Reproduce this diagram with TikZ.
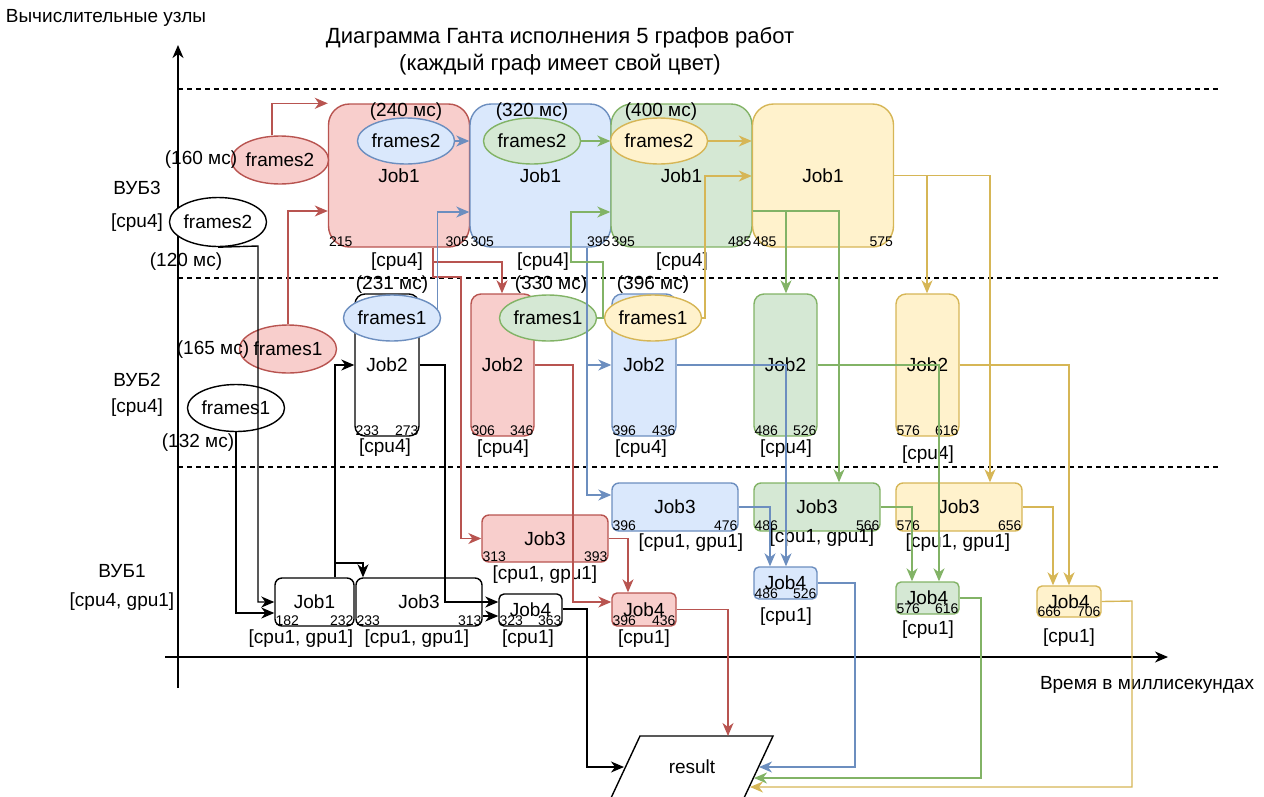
\documentclass[tikz,border=0pt]{standalone}
\usepackage{fontspec}
\setmainfont{Liberation Sans}
\usepackage{tikz}
\usetikzlibrary{
    arrows.meta,
    shapes.geometric
}
\definecolor{redLine}{RGB}{184, 84, 80}
\definecolor{redFill}{RGB}{248, 206, 204}
\definecolor{blueLine}{RGB}{108, 142, 191}
\definecolor{blueFill}{RGB}{218, 232, 252}
\definecolor{greenLine}{RGB}{130, 179, 102}
\definecolor{greenFill}{RGB}{213, 232, 212}
\definecolor{yellowLine}{RGB}{214, 182, 86}
\definecolor{yellowFill}{RGB}{255, 242, 204}
\newcommand{\labfont}{\fontsize{19}{22}\selectfont}
\newcommand{\titfont}{\fontsize{22}{26}\selectfont}
\newcommand{\numfont}{\fontsize{14}{16}\selectfont}
% start / end times in the lower corners of a job
\newcommand{\jobtimes}[3]{%
    \node[num, anchor=south west] (#1-s) at (#1.south west) {#2};
    \node[num, anchor=south east] (#1-e) at (#1.south east) {#3};}

\begin{document}
\begin{tikzpicture}[x=1pt, y=-1pt, >={Stealth[length=13pt, width=11pt, inset=4pt]},
    box/.style={rectangle, line width=1.4pt, inner sep=0pt, font=\labfont},
    jbig/.style={minimum width=141pt, minimum height=143pt, rounded corners=21pt},
    jtall/.style={minimum width=63pt, minimum height=142pt, rounded corners=10pt},
    jwide/.style={minimum width=126pt, minimum height=48pt, rounded corners=7pt},
    jsmall/.style={minimum width=63pt, minimum height=32pt, rounded corners=5pt},
    frm/.style={ellipse, line width=1.4pt, minimum width=79pt, minimum height=46pt, inner sep=0pt, font=\labfont},
    kc/.style={draw=black, fill=white},
    rc/.style={draw=redLine, fill=redFill},
    bc/.style={draw=blueLine, fill=blueFill},
    gc/.style={draw=greenLine, fill=greenFill},
    yc/.style={draw=yellowLine, fill=yellowFill},
    link/.style={->, line width=1.4pt},
    txt/.style={font=\labfont, inner sep=0pt},
    num/.style={font=\numfont, inner sep=1pt}]
    \useasboundingbox (0,0) rectangle (1264,796);

    % axes and node rows
    \coordinate (yBot) at (178,688);
    \coordinate (yTop) at (178,45);
    \coordinate (xLeft) at (165,657);
    \coordinate (xRight) at (1168,657);
    \draw[->, line width=1.5pt] (yBot) -- (yTop);
    \draw[->, line width=1.5pt] (xLeft) -- (xRight);
    \foreach \y in {89, 278, 467}
        \draw[line width=1.2pt, dash pattern=on 5pt off 4pt] (178,\y) -- (1220,\y);
    \node[txt] (yLab) at (106,18) {Вычислительные узлы};
    \node[txt] (xLab) at (1147,685) {Время в миллисекундах};
    \node[txt, font=\titfont] (title1) at (560,38) {Диаграмма Ганта исполнения 5 графов работ};
    \node[txt, font=\titfont] (title2) at (560,65) {(каждый граф имеет свой цвет)};
    \node[txt] (vub3) at (137,188) {ВУБ3};
    \node[txt] (vub3r) at (137,223) {[cpu4]};
    \node[txt] (vub2) at (137,380) {ВУБ2};
    \node[txt] (vub2r) at (137,408) {[cpu4]};
    \node[txt] (vub1) at (122,571) {ВУБ1};
    \node[txt] (vub1r) at (122,602) {[cpu4, gpu1]};

    % ВУБ3
    \node[box, jbig, rc] (rj1) at (399,175.5) {Job1};
    \node[box, jbig, bc] (bj1) at (540.5,175.5) {Job1};
    \node[box, jbig, gc] (gj1) at (681.5,175.5) {Job1};
    \node[box, jbig, yc] (yj1) at (823,175.5) {Job1};
    \jobtimes{rj1}{215}{305}
    \jobtimes{bj1}{305}{395}
    \jobtimes{gj1}{395}{485}
    \jobtimes{yj1}{485}{575}
    \node[txt] (rj1r) at (397,262) {[cpu4]};
    \node[txt] (bj1r) at (543,262) {[cpu4]};
    \node[txt] (gj1r) at (682,262) {[cpu4]};
    \node[frm, bc] (bf2) at (406,141) {frames2};
    \node[frm, gc] (gf2) at (532,141) {frames2};
    \node[frm, yc] (yf2) at (659,141) {frames2};
    \node[txt] (bf2t) at (406,112) {(240 мс)};
    \node[txt] (gf2t) at (532,112) {(320 мс)};
    \node[txt] (yf2t) at (661,112) {(400 мс)};
    \node[frm, rc, minimum height=48pt, minimum width=78pt] (rf2) at (280,160) {frames2};
    \node[txt] (rf2t) at (201,160) {(160 мс)};
    \node[frm, kc, minimum height=49pt] (kf2) at (218,222) {frames2};
    \node[txt] (kf2t) at (186,262) {(120 мс)};

    % ВУБ2
    \node[box, jtall, kc, minimum width=64pt] (kj2) at (387,365) {Job2};
    \node[box, jtall, rc] (rj2) at (502.5,365) {Job2};
    \node[box, jtall, bc, minimum width=64pt] (bj2) at (644,365) {Job2};
    \node[box, jtall, gc] (gj2) at (785.5,365) {Job2};
    \node[box, jtall, yc] (yj2) at (927.5,365) {Job2};
    \jobtimes{kj2}{233}{273}
    \jobtimes{rj2}{306}{346}
    \jobtimes{bj2}{396}{436}
    \jobtimes{gj2}{486}{526}
    \jobtimes{yj2}{576}{616}
    \node[txt] (kj2r) at (385,448) {[cpu4]};
    \node[txt] (rj2r) at (503,449) {[cpu4]};
    \node[txt] (bj2r) at (641,449) {[cpu4]};
    \node[txt] (gj2r) at (786,449) {[cpu4]};
    \node[txt] (yj2r) at (928,455) {[cpu4]};
    \node[frm, bc, minimum width=80pt] (bf1) at (392,318) {frames1};
    \node[frm, gc, minimum width=80pt] (gf1) at (548,318) {frames1};
    \node[frm, yc, minimum width=80pt] (yf1) at (653,318) {frames1};
    \node[txt] (bf1t) at (392,285) {(231 мс)};
    \node[txt] (gf1t) at (551,285) {(330 мс)};
    \node[txt] (yf1t) at (653,285) {(396 мс)};
    \node[frm, rc, minimum height=48pt, minimum width=78pt] (rf1) at (288,349) {frames1};
    \node[txt] (rf1t) at (213,350) {(165 мс)};
    \node[frm, kc, minimum width=80pt, minimum height=47pt] (kf1) at (236,408) {frames1};
    \node[txt] (kf1t) at (198,443) {(132 мс)};

    % ВУБ1
    \node[box, jwide, kc, minimum width=79pt] (kj1) at (314.5,602) {Job1};
    \node[box, jwide, kc] (kj3) at (419,602) {Job3};
    \node[box, jsmall, kc] (kj4) at (530.5,610) {Job4};
    \node[box, jwide, rc, minimum height=47pt] (rj3) at (545,538.5) {Job3};
    \node[box, jsmall, rc, minimum width=64pt, minimum height=33pt] (rj4) at (644,609.5) {Job4};
    \node[box, jwide, bc] (bj3) at (675,507) {Job3};
    \node[box, jwide, gc] (gj3) at (817,507) {Job3};
    \node[box, jwide, yc] (yj3) at (959,507) {Job3};
    \node[box, jsmall, bc] (bj4) at (785.5,583) {Job4};
    \node[box, jsmall, gc] (gj4) at (927.5,598) {Job4};
    \node[box, jsmall, yc, minimum width=64pt, minimum height=31pt] (yj4) at (1069,601.5) {Job4};
    \jobtimes{kj1}{182}{232}
    \jobtimes{kj3}{233}{313}
    \jobtimes{kj4}{323}{363}
    \jobtimes{rj3}{313}{393}
    \jobtimes{rj4}{396}{436}
    \jobtimes{bj3}{396}{476}
    \jobtimes{gj3}{486}{566}
    \jobtimes{yj3}{576}{656}
    \jobtimes{bj4}{486}{526}
    \jobtimes{gj4}{576}{616}
    \jobtimes{yj4}{666}{706}
    \node[txt] (kj1r) at (301,639) {[cpu1, gpu1]};
    \node[txt] (kj3r) at (417,639) {[cpu1, gpu1]};
    \node[txt] (kj4r) at (528,639) {[cpu1]};
    \node[txt] (rj3r) at (545,575) {[cpu1, gpu1]};
    \node[txt] (rj4r) at (644,639) {[cpu1]};
    \node[txt] (bj3r) at (691,543) {[cpu1, gpu1]};
    \node[txt] (gj3r) at (822,538) {[cpu1, gpu1]};
    \node[txt] (yj3r) at (958,543) {[cpu1, gpu1]};
    \node[txt] (bj4r) at (786,617) {[cpu1]};
    \node[txt] (gj4r) at (928,630) {[cpu1]};
    \node[txt] (yj4r) at (1069,638) {[cpu1]};

    % result
    \draw[line width=1.4pt, fill=white] (640,736) -- (773,736) -- (744,798) -- (611,798) -- cycle;
    \node[txt] (res) at (692,767) {result};
    \coordinate (res-k) at (624,767);
    \coordinate (res-r) at (728,736);
    \coordinate (res-b) at (759,767);
    \coordinate (res-g) at (754,778);
    \coordinate (res-y) at (750,787);

    % graph 1 (black)
    \draw[link] (kf2.south) -- (258,246) |- (kj1.west);
    \draw[link] (kf1.south) |- (kj1.west |- 0,613);
    \draw[link] (kj1.north -| 335,0) |- (kj2.west);
    \draw[link] (kj1.north -| 335,0) |- (363,563) -- (kj3.north -| 363,0);
    \draw[link] (kj2.east) -- (445,365) |- (kj4.west |- 0,602);
    \draw[link] (kj3.east |- 0,616) -- (kj4.west |- 0,616);
    \draw[link] (kj4.east |- 0,609) -- (587,609) |- (res-k);

    % graph 2 (red)
    \draw[link, redLine] (rf2.north -| 272,0) |- (rj1.north west);
    \draw[link, redLine] (rf1.north) |- (rj1.west |- 0,211);
    \draw[link, redLine] (rj1.south -| 433,0) |- (502,262) -- (rj2.north -| 502,0);
    \draw[link, redLine] (rj1.south -| 433,0) |- (461,277) |- (rj3.west);
    \draw[link, redLine] (rj2.east) -- (573,365) |- (rj4.west |- 0,602);
    \draw[link, redLine] (rj3.east) -| (rj4.north -| 628,0);
    \draw[link, redLine] (rj4.east) -| (res-r);

    % graph 3 (blue)
    \draw[link, blueLine] (bf2.east) -- (bj1.west |- bf2.east);
    \draw[link, blueLine] (bf1.11) |- (bj1.west |- 0,212);
    \draw[link, blueLine] (bj1.south -| 587,0) |- (bj3.west |- 0,495);
    \draw[link, blueLine] (bj1.south -| 587,0) |- (bj2.west);
    \draw[link, blueLine] (bj2.east) -| (bj4.north -| 786,0);
    \draw[link, blueLine] (bj3.east) -| (bj4.north -| 770,0);
    \draw[link, blueLine] (bj4.east) -- (855,583) |- (res-b);

    % graph 4 (green)
    \draw[link, greenLine] (gf2.east) -- (gj1.west |- gf2.east);
    \draw[link, greenLine] (gf1.east) -| (603,262) -| (571,212) -- (gj1.west |- 0,212);
    \draw[link, greenLine] (gj1.east |- 0,211) -| (gj3.north -| 839,0);
    \draw[link, greenLine] (gj1.east |- 0,211) -| (gj2.north -| 786,0);
    \draw[link, greenLine] (gj2.east) -| (gj4.north -| 939,0);
    \draw[link, greenLine] (gj3.east) -| (gj4.north -| 912,0);
    \draw[link, greenLine] (gj4.east) -- (981,598) |- (res-g);

    % graph 5 (yellow)
    \draw[link, yellowLine] (yf2.east) -- (yj1.west |- yf2.east);
    \draw[link, yellowLine] (yf1.east) -- (705,318) |- (yj1.west |- 0,176);
    \draw[link, yellowLine] (yj1.east) -| (yj2.north -| 927,0);
    \draw[link, yellowLine] (yj1.east) -| (yj3.north -| 990,0);
    \draw[link, yellowLine] (yj2.east) -| (yj4.north -| 1069,0);
    \draw[link, yellowLine] (yj3.east) -| (yj4.north -| 1053,0);
    \draw[link, yellowLine] (yj4.east) -- (1132,601) |- (res-y);
\end{tikzpicture}
\end{document}
